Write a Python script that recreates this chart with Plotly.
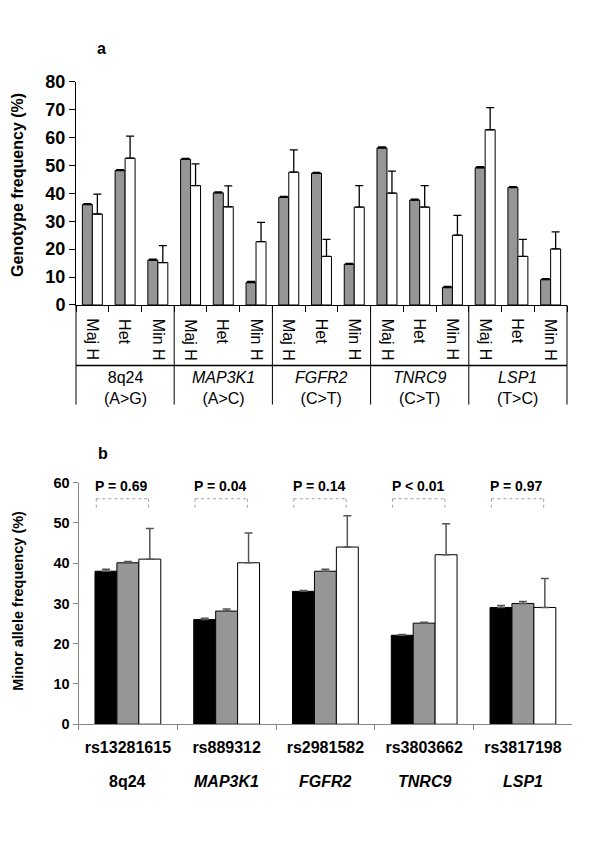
import plotly.graph_objects as go

# ---------------- data ----------------
genes = ["8q24", "MAP3K1", "FGFR2", "TNRC9", "LSP1"]
gene_labels_a = ["8q24<br>(A>G)", "<i>MAP3K1</i><br>(A>C)", "<i>FGFR2</i><br>(C>T)",
                 "<i>TNRC9</i><br>(C>T)", "<i>LSP1</i><br>(T>C)"]
genotypes = ["Maj H", "Het", "Min H"]

gray_a = [36.0, 48.2, 16.1, 52.2, 40.2, 8.1, 38.6, 47.2, 14.6, 56.3, 37.6, 6.3, 49.2, 42.1, 9.1]
gray_a_err = [0.3, 0.3, 0.3, 0.3, 0.3, 0.3, 0.3, 0.3, 0.3, 0.3, 0.3, 0.3, 0.3, 0.3, 0.3]
white_a = [32.6, 52.6, 15.2, 42.8, 35.2, 22.7, 47.6, 17.4, 35.1, 40.1, 35.1, 25.0, 62.8, 17.4, 20.1]
white_a_err = [7.1, 7.9, 6.1, 7.8, 7.5, 6.9, 8.0, 6.1, 7.7, 7.9, 7.7, 7.1, 7.9, 6.1, 6.1]

snps = ["rs13281615", "rs889312", "rs2981582", "rs3803662", "rs3817198"]
gene_labels_b = ["8q24", "<i>MAP3K1</i>", "<i>FGFR2</i>", "<i>TNRC9</i>", "<i>LSP1</i>"]
black_b = [38.0, 26.0, 33.0, 22.1, 29.0]
black_b_err = [0.5, 0.3, 0.2, 0.2, 0.5]
gray_b = [40.1, 28.1, 38.0, 25.1, 30.0]
gray_b_err = [0.3, 0.5, 0.5, 0.2, 0.5]
white_b = [41.0, 40.1, 44.0, 42.1, 29.0]
white_b_err = [7.6, 7.4, 7.8, 7.7, 7.2]
p_values = ["P = 0.69", "P = 0.04", "P = 0.14", "P < 0.01", "P = 0.97"]

# ---------------- helpers ----------------
OFF = 8                     # default page body margin
W, H = 600 - OFF, 846 - OFF
FONT = "Liberation Sans, Arial, sans-serif"
GRAY = "#969696"


def px_x(p):
    return (p - OFF) / W


def px_y(p):
    return 1 - (p - OFF) / H


def txt(size, bold=False):
    d = dict(size=size, color="#000", family=FONT)
    if bold:
        d["weight"] = "bold"
    return d


cats_a = [f"{g} {t}" for g in genes for t in genotypes]

fig = go.Figure()

# ---------------- panel a ----------------
wa = 0.305
fig.add_trace(go.Bar(
    x=cats_a, y=gray_a, width=wa, offset=-wa,
    marker=dict(color=GRAY, line=dict(color="#000", width=1)),
    error_y=dict(type="data", array=gray_a_err, arrayminus=[0] * len(gray_a), symmetric=False,
                 color="#000", thickness=1.5, width=4),
    xaxis="x", yaxis="y", showlegend=False))
fig.add_trace(go.Bar(
    x=cats_a, y=white_a, width=wa, offset=0,
    marker=dict(color="#fff", line=dict(color="#000", width=1)),
    error_y=dict(type="data", array=white_a_err, arrayminus=[0] * len(white_a), symmetric=False,
                 color="#000", thickness=1.3, width=4),
    xaxis="x", yaxis="y", showlegend=False))

# ---------------- panel b ----------------
wb = 0.222
for vals, errs, col, off in [(black_b, black_b_err, "#000", -1.5 * wb),
                             (gray_b, gray_b_err, GRAY, -0.5 * wb),
                             (white_b, white_b_err, "#fff", 0.5 * wb)]:
    fig.add_trace(go.Bar(
        x=snps, y=vals, width=wb, offset=off,
        marker=dict(color=col, line=dict(color="#000", width=1)),
        error_y=dict(type="data", array=errs, arrayminus=[0] * len(errs), symmetric=False,
                     color="#555", thickness=1.5, width=4),
        xaxis="x2", yaxis="y2", showlegend=False))

shapes = []
annotations = []

# panel a category table lines
top_tab, bot_tab, hline = 302, 404, 364
for xd in (0, 1):
    shapes.append(dict(type="line", xref="x domain", yref="paper", x0=xd, x1=xd,
                       y0=px_y(top_tab), y1=px_y(bot_tab), line=dict(color="#000", width=1)))
for g in range(1, len(genes)):
    xb = g * len(genotypes) - 0.5
    shapes.append(dict(type="line", xref="x", yref="paper", x0=xb, x1=xb,
                       y0=px_y(top_tab), y1=px_y(bot_tab), line=dict(color="#000", width=1)))
shapes.append(dict(type="line", xref="x domain", yref="paper", x0=0, x1=1,
                   y0=px_y(hline), y1=px_y(hline), line=dict(color="#000", width=1.5)))

for i, c in enumerate(cats_a):
    annotations.append(dict(x=i, y=px_y(314), xref="x", yref="paper", text=genotypes[i % 3],
                            textangle=90, showarrow=False, yanchor="top", xanchor="center",
                            font=txt(16)))
for g, lab in enumerate(gene_labels_a):
    annotations.append(dict(x=g * 3 + 1, y=px_y(387), xref="x", yref="paper", text=lab,
                            showarrow=False, yanchor="middle", xanchor="center",
                            font=txt(16)))

# panel b brackets and p-values
for i, p in enumerate(p_values):
    xl, xr = i - 0.32, i + 0.21
    dl = dict(color="#a0a0a0", width=1, dash="dot")
    shapes.append(dict(type="line", xref="x2", yref="y2", x0=xl, x1=xr, y0=56, y1=56, line=dl))
    shapes.append(dict(type="line", xref="x2", yref="y2", x0=xl, x1=xl, y0=56, y1=53, line=dl))
    shapes.append(dict(type="line", xref="x2", yref="y2", x0=xr, x1=xr, y0=56, y1=53, line=dl))
    annotations.append(dict(x=i - 0.06, y=59.1, xref="x2", yref="y2", text=p,
                            showarrow=False, xanchor="center", yanchor="middle",
                            font=txt(14, True)))
for i, lab in enumerate(gene_labels_b):
    annotations.append(dict(x=i, y=px_y(790), xref="x2", yref="paper", text=lab,
                            showarrow=False, xanchor="center", yanchor="middle",
                            font=txt(16, True)))

# panel labels and y titles
annotations.append(dict(x=px_x(101.5), y=px_y(39), xref="paper", yref="paper", text="a",
                        showarrow=False, xanchor="center", yanchor="middle", font=txt(16, True)))
annotations.append(dict(x=px_x(103), y=px_y(454), xref="paper", yref="paper", text="b",
                        showarrow=False, xanchor="center", yanchor="middle", font=txt(16, True)))
annotations.append(dict(x=px_x(18), y=px_y(179), xref="paper", yref="paper",
                        text="Genotype frequency (%)", textangle=-90,
                        showarrow=False, xanchor="center", yanchor="middle", font=txt(16, True)))
annotations.append(dict(x=px_x(18), y=px_y(605), xref="paper", yref="paper",
                        text="Minor allele frequency (%)", textangle=-90,
                        showarrow=False, xanchor="center", yanchor="middle", font=txt(14.5, True)))

fig.update_layout(
    width=W, height=H, margin=dict(l=0, r=0, t=0, b=0),
    paper_bgcolor="#fff", plot_bgcolor="#fff", barmode="overlay",
    font=dict(family=FONT, color="#000"),
    shapes=shapes, annotations=annotations,
    xaxis=dict(domain=[px_x(76), px_x(567)], type="category", tickson="boundaries",
               showticklabels=False, ticks="outside", ticklen=6, tickcolor="#000",
               showline=True, linecolor="#000", linewidth=1, showgrid=False,
               zeroline=False, anchor="y"),
    yaxis=dict(domain=[px_y(302), px_y(73.3)], range=[0, 80], dtick=10, ticks="outside",
               ticklen=6, tickcolor="#000", showline=True, linecolor="#000", linewidth=1,
               showgrid=False, zeroline=False, anchor="x", tickfont=txt(18, True)),
    xaxis2=dict(domain=[px_x(78.5), px_x(572.3)], type="category", tickson="boundaries",
                ticks="outside", ticklen=5, tickcolor="#888",
                showline=True, linecolor="#888", linewidth=1, showgrid=False,
                zeroline=False, anchor="y2", ticklabelstandoff=9, tickfont=txt(16, True)),
    yaxis2=dict(domain=[px_y(731.5), px_y(484)], range=[0, 60], dtick=10, ticks="outside",
                ticklen=5, tickcolor="#888", showline=True, linecolor="#888", linewidth=1,
                showgrid=False, zeroline=False, anchor="x2", tickfont=txt(14.5, True)),
)

fig.write_html("out.html")
